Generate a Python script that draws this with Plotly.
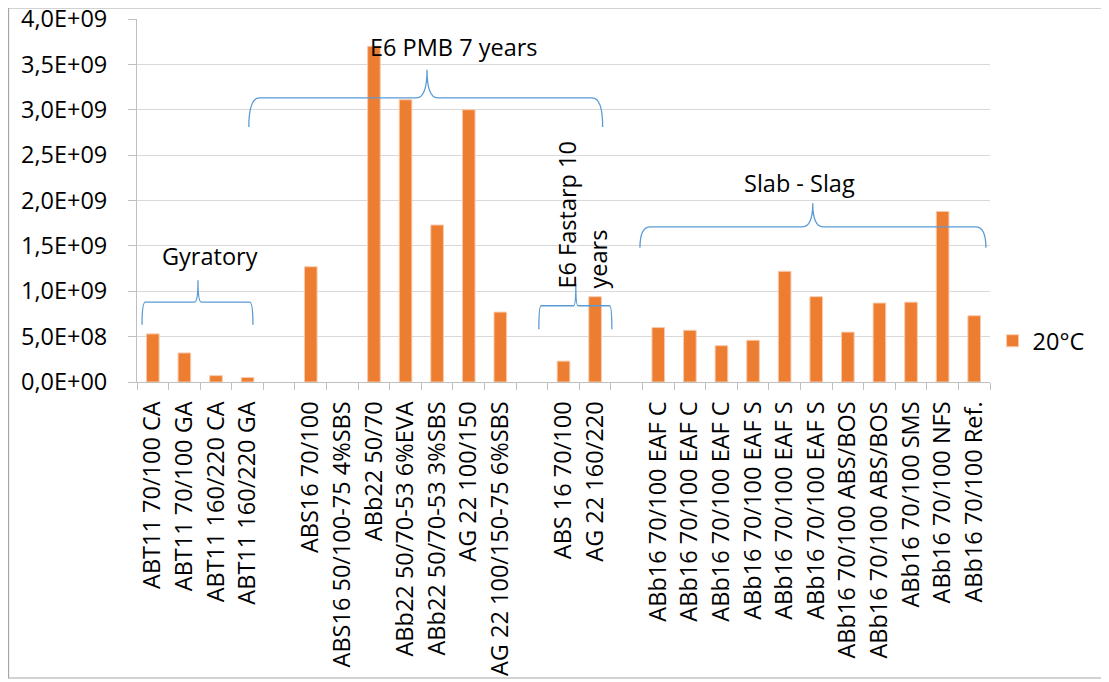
import plotly.graph_objects as go

# ------------------------------------------------------------
# DATA  (empty label = gap slot between groups)
# ------------------------------------------------------------

labels = [
    "ABT11 70/100 CA", "ABT11 70/100 GA", "ABT11 160/220 CA", "ABT11 160/220 GA",
    "",
    "ABS16 70/100", "ABS16 50/100-75 4%SBS", "ABb22 50/70", "ABb22 50/70-53 6%EVA",
    "ABb22 50/70-53 3%SBS", "AG 22 100/150", "AG 22 100/150-75 6%SBS",
    "",
    "ABS 16 70/100", "AG 22 160/220",
    "",
    "ABb16 70/100 EAF C", "ABb16 70/100 EAF C", "ABb16 70/100 EAF C",
    "ABb16 70/100 EAF S", "ABb16 70/100 EAF S", "ABb16 70/100 EAF S",
    "ABb16 70/100 ABS/BOS", "ABb16 70/100 ABS/BOS", "ABb16 70/100 SMS",
    "ABb16 70/100 NFS", "ABb16 70/100 Ref.",
]

values_20c = [
    5.3e8, 3.2e8, 0.7e8, 0.5e8,
    None,
    1.27e9, None, 3.70e9, 3.11e9, 1.73e9, 3.00e9, 0.77e9,
    None,
    0.23e9, 0.94e9,
    None,
    0.60e9, 0.57e9, 0.40e9, 0.46e9, 1.22e9, 0.94e9,
    0.55e9, 0.87e9, 0.88e9, 1.88e9, 0.73e9,
]

y_ticks = [i * 0.5e9 for i in range(9)]
y_ticktext = [f"{v:.1E}".replace(".", ",") for v in y_ticks]

# group braces: (x_left, x_right, x_tip, y_end, y_mid, y_tip) in data units
groups = [
    ("Gyratory", (-0.34, 3.17, 1.43, 0.63e9, 0.88e9, 1.12e9), (1.81, 1.39e9), 0),
    ("E6 PMB 7 years", (3.04, 14.24, 8.68, 2.81e9, 3.13e9, 3.44e9), (9.54, 3.69e9), 0),
    ("E6 Fastarp 10<br>years", (12.22, 14.53, 13.39, 0.58e9, 0.84e9, 1.08e9), (13.6, 1.84e9), -90),
    ("Slab - Slag", (15.42, 26.37, 20.89, 1.48e9, 1.71e9, 1.97e9), (20.48, 2.19e9), 0),
]

FONT = "Open Sans"
FS = 23.5
ORANGE = "#ED7D31"
BRACE = "#5B9BD5"

x_pos = list(range(len(labels)))

fig = go.Figure()

fig.add_trace(go.Bar(
    x=x_pos,
    y=values_20c,
    name="20°C",
    marker=dict(color=ORANGE, line=dict(color="#F8CBAD", width=1)),
    width=0.4,
))


def brace_path(xl, xr, xt, ye, ym, yt):
    # curly brace opening downward
    dx = (xr - xl) * 0.03
    return (
        f"M {xl},{ye} Q {xl},{ym} {xl + dx},{ym} "
        f"L {xt - dx},{ym} Q {xt},{ym} {xt},{yt} "
        f"Q {xt},{ym} {xt + dx},{ym} "
        f"L {xr - dx},{ym} Q {xr},{ym} {xr},{ye}"
    )


for text, br, (tx, ty), ang in groups:
    fig.add_shape(
        type="path",
        path=brace_path(*br),
        xref="x", yref="y",
        line=dict(color=BRACE, width=1.3),
    )
    fig.add_annotation(
        x=tx, y=ty, xref="x", yref="y",
        text=text, showarrow=False, textangle=ang,
        align="left",
        font=dict(family=FONT, size=FS, color="black"),
    )

# outer chart border
fig.add_shape(
    type="rect", xref="paper", yref="paper",
    x0=-0.1506, x1=1.1372, y0=-0.8154, y1=1.0303,
    line=dict(color="#A6A6A6", width=1.2),
)

fig.update_layout(
    width=1109,
    height=682,
    margin=dict(l=129, r=127, t=11, b=308, autoexpand=False),
    paper_bgcolor="white",
    plot_bgcolor="white",
    font=dict(family=FONT, size=FS, color="black"),
    showlegend=True,
    legend=dict(
        x=1.003, y=0.113, xanchor="left", yanchor="middle",
        font=dict(family=FONT, size=FS),
        itemwidth=30,
    ),
    bargap=0.6,
)

fig.update_xaxes(
    range=[-0.5, len(labels) - 0.5],
    tickmode="array",
    tickvals=x_pos,
    ticktext=labels,
    tickangle=-90,
    ticks="",
    ticklabelstandoff=9,
    showgrid=False,
    showline=True,
    linecolor="#BFBFBF",
    linewidth=1,
    automargin=False,
    minor=dict(
        tickmode="linear", tick0=-0.5, dtick=1,
        ticks="outside", ticklen=7, tickcolor="#BFBFBF", showgrid=False,
    ),
    tickfont=dict(family=FONT, size=FS),
)

fig.update_yaxes(
    range=[0, 4.0e9],
    tickmode="array",
    tickvals=y_ticks,
    ticktext=y_ticktext,
    ticks="outside",
    ticklen=8,
    tickcolor="#BFBFBF",
    ticklabelstandoff=16,
    ticklabeloverflow="allow",
    showgrid=True,
    gridcolor="#D9D9D9",
    showline=True,
    linecolor="#BFBFBF",
    zeroline=False,
    automargin=False,
    tickfont=dict(family=FONT, size=FS),
)

fig.write_html("out.html")
